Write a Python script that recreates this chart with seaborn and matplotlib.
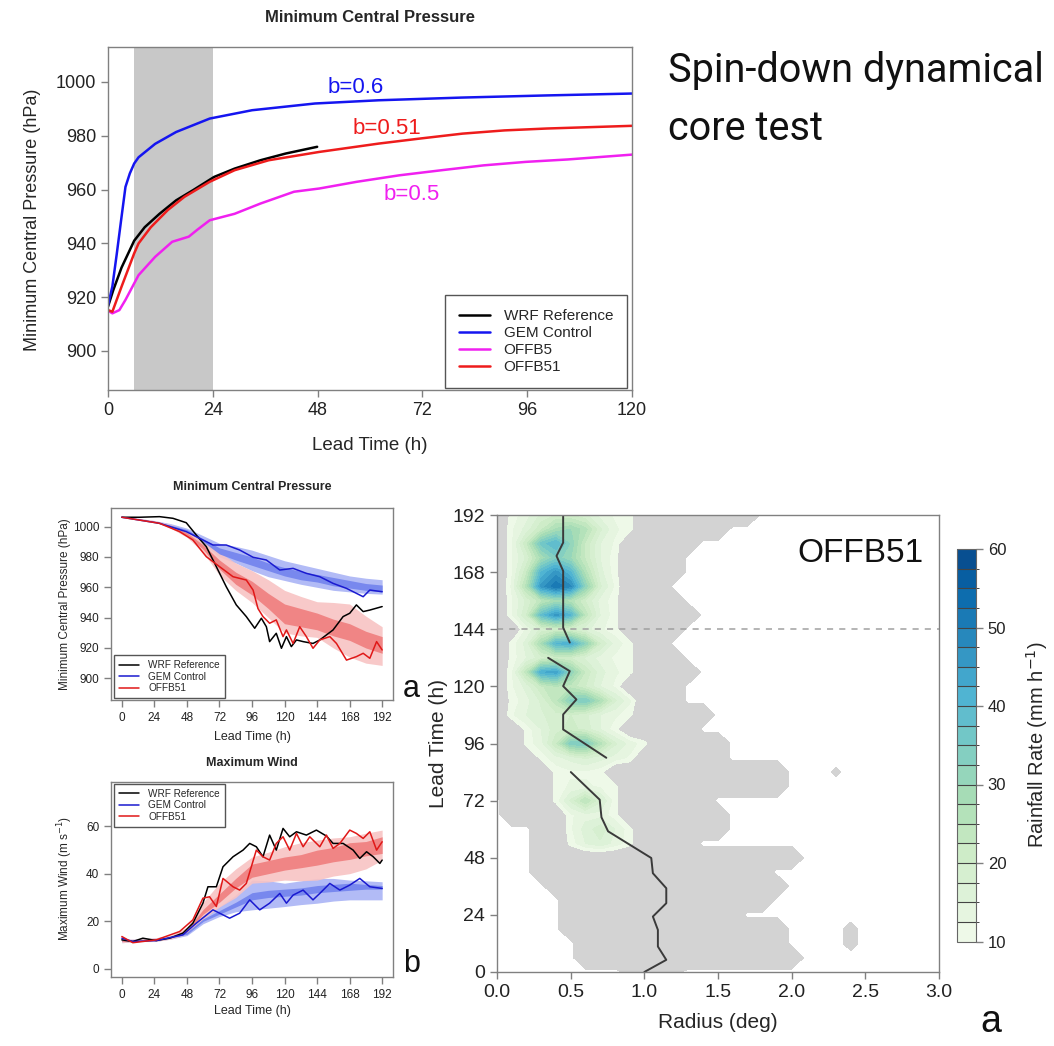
import numpy as np
import matplotlib
matplotlib.use("Agg")
import matplotlib.pyplot as plt
import seaborn as sns
from matplotlib.colors import ListedColormap, BoundaryNorm
from matplotlib.cm import ScalarMappable

W, H = 1054, 1046

# --- spin-down test (0-120 h) ---
spin_wrf_t = [0, 1.2, 3.1, 6, 8.4, 11.8, 15.6, 19.5, 24.3, 29, 34.9, 40.7, 47.9]
spin_wrf_p = [916.5, 922.6, 931, 941, 946, 951, 956, 959.8, 964.7, 967.8, 970.9, 973.4, 975.9]
spin_gem_t = [0, 1, 2, 3, 4, 5, 6, 7, 10.8, 15.6, 23.3, 33, 47.4, 62, 81, 100.5, 120]
spin_gem_p = [917, 924, 936, 948.6, 961, 966, 969.7, 972, 977, 981.4, 986.4, 989.5, 992, 993.2, 994.2, 995, 995.7]
spin_b5_t = [0, 1, 2.6, 4, 7, 10.8, 14.7, 18.5, 20.4, 23.3, 29, 34.9, 42.6, 48.4, 57, 66.7, 76.4, 86, 95.7, 105.3, 120]
spin_b5_p = [915, 914, 915.2, 919, 928.2, 935, 940.6, 942.5, 945, 948.6, 951, 954.8, 959.2, 960.4, 962.9, 965.3,
             967.2, 969, 970.3, 971.2, 973]
spin_b51_t = [0, 1, 3.1, 6, 7, 9.8, 13.7, 17.5, 23.3, 29, 36.8, 48.4, 62, 71.6, 81.2, 90.8, 100.5, 120]
spin_b51_p = [915.2, 914.6, 923.9, 936.3, 940, 946, 952.4, 957.3, 962.9, 967.2, 970.9, 974, 977.1, 979, 980.8,
              982, 982.7, 983.7]

# --- 192 h runs: minimum central pressure ---
mcp_wrf_t = [0, 13, 27.8, 37.7, 47.5, 54.9, 62.3, 69.7, 77, 84.4, 91.8, 98, 102.9, 106.6, 109, 113.9, 117.7,
             121.4, 125, 128.8, 133.7, 141, 146, 150.9, 155.8, 163.2, 168.1, 173, 178, 182.9, 192]
mcp_wrf_p = [1006.2, 1006.2, 1006.6, 1005.5, 1002.6, 994.5, 986.8, 973.6, 960.4, 948.4, 940.7, 933, 939.6, 934,
             924.2, 929.7, 919.8, 927.5, 920.9, 925.3, 924.2, 923, 925.3, 928.6, 931.9, 940.7, 942.9, 948.4, 944,
             945, 947.3]
mcp_gem_t = [0, 27.8, 47.5, 57.4, 67.2, 77, 86.9, 96.8, 106.6, 116.5, 126.3, 136.1, 146, 155.8, 165.7, 178,
             182.9, 192]
mcp_gem_p = [1006.2, 1002.2, 996.7, 992.3, 987.9, 987.9, 984.6, 979.8, 978, 971.4, 972.5, 969.2, 967, 962.6,
             959.3, 953.8, 958.2, 957.1]
mcp_b51_t = [0, 27.8, 42.6, 52.4, 62.3, 72.1, 82, 91.8, 96.8, 100.4, 104.1, 109, 113.9, 118.9, 121.4, 126.3,
             131.2, 136.1, 141, 146, 153.4, 158.3, 165.7, 173, 178, 182.9, 187.9, 192]
mcp_b51_p = [1006.2, 1002.2, 996.7, 991.2, 980.2, 973.6, 967, 964.8, 958.2, 946, 940.7, 936.3, 938.5, 927.5,
             931.9, 923, 934, 927.5, 919.8, 925.3, 927.5, 923, 912, 914.3, 916.5, 913.2, 924.2, 918.7]

band_t = [0, 12, 24, 36, 48, 60, 72, 84, 96, 108, 120, 132, 144, 156, 168, 180, 192]
mcp_gem_lo2 = [1006, 1005, 1003, 1000, 996, 989, 980, 976, 971, 967, 964.5, 962, 960, 958, 957, 956, 955.5]
mcp_gem_lo1 = [1006, 1005, 1003, 1000, 997, 990, 982, 978, 974.5, 971, 967.5, 965, 963.5, 961, 959.5, 958, 957]
mcp_gem_hi1 = [1006, 1005, 1003.5, 1001, 998, 992, 986, 983, 980, 976, 973, 970.5, 968.5, 966.5, 964.5, 962.5, 961.5]
mcp_gem_hi2 = [1006, 1005.5, 1004, 1002, 999, 994, 989, 987, 984.5, 981, 977.5, 975, 972.5, 970, 967.5, 966, 965]
mcp_b51_lo2 = [1006, 1005, 1003, 999, 993, 983, 968, 958, 950, 940, 930, 928, 927, 920, 914, 910, 908.5]
mcp_b51_lo1 = [1006, 1005, 1003, 999.5, 994, 985, 972, 962, 955, 946, 936, 934, 932, 928, 925, 920, 916.5]
mcp_b51_hi1 = [1006, 1005, 1003.5, 1000.5, 996, 988, 978, 970, 964, 956, 949, 946, 943, 939, 936, 931, 927.5]
mcp_b51_hi2 = [1006, 1005.5, 1004, 1001.5, 997, 991, 983, 976, 971, 965, 958, 954, 950.5, 950, 949, 941, 934]

# --- 192 h runs: maximum wind ---
wind_wrf_t = [0, 8.1, 15.5, 25.4, 35.2, 45, 52.4, 59.8, 63.5, 69.7, 74.6, 82, 89.4, 94.3, 99.2, 104.1, 109,
              113.9, 118.9, 123.8, 128.8, 136.1, 143.5, 150.9, 155.8, 163.2, 170.6, 175.5, 180.5, 185.4, 190.3, 192]
wind_wrf_v = [12.2, 11.5, 12.9, 11.9, 12.9, 15, 19.2, 27.6, 34.5, 34.5, 42.9, 47.1, 49.9, 52.7, 51.3, 47.1, 56.2,
              49.9, 59, 55.5, 57.6, 56.2, 58.3, 55.8, 52.7, 52.7, 49.9, 46.4, 49.2, 47.1, 44.3, 45.7]
wind_gem_t = [0, 8.1, 25.4, 45, 54.9, 67.2, 74.6, 79.5, 86.9, 94.3, 101.7, 109, 116.5, 121.4, 126.3, 133.7, 141,
              146, 153.4, 160.8, 168.1, 175.5, 182.9, 192]
wind_gem_v = [12.9, 11.5, 11.9, 14.3, 19.2, 24.8, 22.7, 21.3, 23.4, 29, 24.8, 27.6, 31.7, 27.6, 31, 33.1, 29, 31.7,
              35.9, 33.1, 35.2, 38, 34.5, 33.8]
wind_b51_t = [0, 8.1, 25.4, 42.6, 52.4, 59.8, 64.7, 69.7, 74.6, 82, 86.9, 91.8, 99.2, 104.1, 109, 113.9, 118.9,
              123.8, 128.8, 133.7, 138.6, 146, 150.9, 155.8, 160.8, 168.1, 173, 178, 182.9, 187.9, 192]
wind_b51_v = [13.6, 11, 12.2, 15.7, 20.6, 29.7, 30.3, 26.2, 38, 34.5, 33.1, 35.9, 49.9, 47.1, 45.7, 52.7, 55.5,
              49.9, 56.9, 51.3, 55.5, 51.3, 56.2, 50.6, 52.7, 58.3, 56.9, 54.8, 57.6, 49.9, 53.4]
wind_gem_lo2 = [11, 11.5, 11.5, 12.5, 14, 19, 22, 24, 24.8, 25.5, 26.2, 27, 27.6, 28.5, 29, 29, 29]
wind_gem_lo1 = [11.5, 11.8, 12, 13, 14.5, 20, 23, 26, 29, 30, 30.5, 31, 32, 32.5, 33, 33.5, 33.5]
wind_gem_hi1 = [12, 12.2, 12.5, 13.5, 15.5, 21, 24.5, 28, 32, 33, 33.5, 34, 35, 35.5, 36, 35.5, 35]
wind_gem_hi2 = [12.5, 12.5, 13, 14, 16.5, 22, 26.2, 31, 37.3, 37, 36, 37, 38, 38, 37.3, 37, 36.6]
wind_b51_lo2 = [11, 11.5, 11.5, 12.5, 14.5, 21, 26, 30, 36, 36.5, 37.3, 37, 37.3, 39, 40, 42, 45.7]
wind_b51_lo1 = [11.5, 11.8, 12, 13, 15.5, 23, 28, 34, 38.5, 40, 41.5, 42.5, 43.6, 45, 46, 47.5, 48.5]
wind_b51_hi1 = [12, 12.2, 12.5, 13.5, 16.5, 25, 31.5, 38, 44, 45.5, 47, 48, 49.9, 51, 53, 53.5, 55.5]
wind_b51_hi2 = [12.5, 12.5, 13, 14, 17.5, 28, 36, 42, 47, 49, 51.3, 53, 54.1, 55, 55.5, 57, 58.3]

# --- OFFB51 rain rate (mm/h), rows every 6 h, columns radius 0.0-2.5 deg ---
rain_radius = [0.0, 0.1, 0.2, 0.3, 0.4, 0.5, 0.6, 0.7, 0.8, 0.9, 1.0, 1.1, 1.2, 1.3, 1.4, 1.5, 1.6, 1.7, 1.8,
               1.9, 2.0, 2.1, 2.2, 2.3, 2.4, 2.5]
rain_lead = list(range(0, 193, 6))
rain_rows = [
    [0, 0, 0, 0, 0, 0, 0, 0, 0, 2, 4, 4, 2],
    [0, 0, 0, 0, 0, 0, 5, 5, 5, 5, 5, 5, 5, 5, 5, 5, 5, 5, 5, 5, 5],
    [0, 0, 0, 0, 0, 0, 5, 5, 5, 5, 5, 5, 5, 5, 5, 5, 5, 5, 5, 5, 0, 0, 0, 0, 2],
    [0, 0, 0, 0, 0, 5, 5, 5, 5, 5, 5, 5, 5, 5, 5, 5, 5, 5, 5, 5, 0, 0, 0, 0, 2],
    [0, 0, 0, 0, 0, 5, 5, 5, 5, 5, 5, 5, 5, 5, 5, 5, 5],
    [0, 0, 0, 0, 0, 5, 5, 5, 5, 5, 5, 5, 5, 5, 5, 5, 5, 5, 5],
    [0, 0, 0, 0, 5, 5, 5, 5, 5, 5, 5, 5, 5, 5, 5, 5, 5, 5, 5, 5],
    [0, 0, 0, 5, 5, 5, 5, 5, 5, 5, 5, 5, 5, 5, 5, 5, 5, 5, 5],
    [0, 0, 0, 5, 5, 5, 5, 5, 5, 5, 5, 5, 5, 5, 5, 5, 5, 5, 5, 5, 5],
    [0, 0, 0, 5, 5, 11, 15, 17, 14, 11, 5, 5, 5, 5],
    [0, 0, 0, 5, 5, 12, 16, 19, 15, 11, 5, 5, 5, 5, 5, 5],
    [0, 5, 5, 5, 5, 12, 14, 14, 11, 5, 5, 5, 5, 5, 5, 5],
    [0, 5, 5, 5, 11, 18, 25, 18, 11, 5, 5, 5, 5, 5, 5],
    [5, 5, 5, 5, 11, 13, 13, 12, 11, 5, 5, 5, 5, 5, 5, 5, 5, 5, 5, 5],
    [5, 5, 5, 5, 11, 12, 12, 11, 5, 5, 5, 5, 5, 5, 5, 5, 5, 5, 5, 5, 0, 0, 0, 1.5],
    [5, 5, 5, 11, 14, 16, 18, 16, 14, 12, 5, 5, 5, 5, 5, 5],
    [5, 5, 11, 14, 22, 34, 35, 26, 18, 14, 11, 5, 5, 5, 5, 5],
    [5, 5, 11, 15, 19, 21, 19, 15, 11, 5, 5, 5, 5, 5],
    [5, 12, 15, 17, 19, 20, 18, 15, 13, 11, 5, 5, 5, 5, 5],
    [5, 11, 14, 18, 24, 33, 35, 27, 18, 13, 5, 5, 5],
    [5, 12, 16, 22, 25, 24, 20, 15, 12, 5, 5, 5, 5],
    [5, 12, 24, 42, 44, 32, 22, 16, 13, 11, 5, 5, 5, 5],
    [5, 11, 15, 19, 21, 20, 17, 14, 12, 11, 5, 5, 5],
    [5, 11, 16, 28, 40, 42, 32, 20, 14, 11, 5, 5],
    [5, 5, 13, 18, 20, 19, 16, 13, 11, 5, 5, 5, 5],
    [5, 12, 20, 38, 46, 40, 24, 15, 11, 5, 5, 5, 5, 5],
    [5, 12, 18, 24, 28, 26, 20, 14, 11, 5, 5, 5, 5],
    [5, 13, 26, 46, 52, 48, 32, 18, 12, 5, 5, 5],
    [5, 12, 22, 40, 46, 40, 26, 16, 11, 5, 5, 5, 5],
    [5, 12, 18, 28, 34, 30, 22, 15, 11, 5, 5, 5, 5],
    [5, 12, 22, 36, 40, 32, 22, 15, 12, 5, 5, 5, 5, 5],
    [5, 12, 16, 22, 28, 30, 26, 18, 13, 11, 5, 5, 5, 5, 5, 5],
    [5, 11, 14, 18, 20, 20, 18, 14, 12, 11, 5, 5, 5, 5, 5, 5, 5, 5],
]
rain = np.array([r + [0] * (len(rain_radius) - len(r)) for r in rain_rows], dtype=float)

# radius of maximum wind track (three pieces)
rmw_r = [[1.0, 1.149, 1.092, 1.092, 1.058, 1.149, 1.149, 1.058, 1.047, 0.754, 0.709, 0.697, 0.501],
         [0.742, 0.449, 0.449, 0.539, 0.449, 0.494, 0.347],
         [0.494, 0.449, 0.449, 0.404, 0.449, 0.449]]
rmw_t = [[0, 5.1, 10.7, 17.7, 23.3, 28.9, 35.2, 41.5, 47.9, 59.1, 65, 72.4, 84],
         [90, 101.9, 108.2, 114.5, 120.1, 126.4, 132],
         [138.4, 144.7, 168.5, 174.8, 180.4, 192]]

sns.set_style("ticks")
plt.rcParams["font.family"] = ["Liberation Sans", "DejaVu Sans"]

fig = plt.figure(figsize=(W / 100, H / 100), dpi=100)


def box(l, t, r, b):
    return [l / W, 1 - b / H, (r - l) / W, (b - t) / H]


def frame(ax, size):
    for s in ax.spines.values():
        s.set_visible(True)
        s.set_color("#808080")
        s.set_linewidth(1.0)
    ax.tick_params(direction="out", length=5, width=1, color="#808080", labelsize=size, labelcolor="#222222")
    ax.set_xlabel("")
    ax.set_ylabel("")


def ftext(x, y, s, **kw):
    fig.text(x / W, 1 - y / H, s, **kw)


# top panel
ax1 = fig.add_axes(box(108, 47, 632, 390))
ax1.axvspan(6, 24, color="#c8c8c8", lw=0)
sns.lineplot(x=spin_wrf_t, y=spin_wrf_p, color="black", lw=1.8, label="WRF Reference", ax=ax1)
sns.lineplot(x=spin_gem_t, y=spin_gem_p, color="#1515f0", lw=1.8, label="GEM Control", ax=ax1)
sns.lineplot(x=spin_b5_t, y=spin_b5_p, color="#f020f0", lw=1.8, label="OFFB5", ax=ax1)
sns.lineplot(x=spin_b51_t, y=spin_b51_p, color="#ee1c1c", lw=1.8, label="OFFB51", ax=ax1)
ax1.set_xlim(0, 120)
ax1.set_ylim(885.5, 1013)
ax1.set_xticks(range(0, 121, 24))
ax1.set_yticks(range(900, 1001, 20))
frame(ax1, 13)
ax1.legend(loc="lower right", bbox_to_anchor=(0.99, 0.006), borderaxespad=0, fontsize=11,
           frameon=True, fancybox=False, edgecolor="#555555", framealpha=1, borderpad=0.9,
           labelspacing=0.2, handlelength=2.0, handletextpad=0.9)
ax1.text(56.8, 998, "b=0.6", color="#1515f0", fontsize=16, ha="center", va="center")
ax1.text(63.8, 982.7, "b=0.51", color="#ee1c1c", fontsize=16, ha="center", va="center")
ax1.text(69.6, 958.3, "b=0.5", color="#f020f0", fontsize=16, ha="center", va="center")
ftext(370, 17, "Minimum Central Pressure", fontsize=12, fontweight="bold", ha="center", va="center")
ftext(370, 445, "Lead Time (h)", fontsize=13.5, ha="center", va="center")
ftext(33, 220, "Minimum Central Pressure (hPa)", fontsize=13, rotation=90, ha="center", va="center")

ftext(668, 82, "Spin-down dynamical", fontsize=28.5, family=["Roboto", "DejaVu Sans"],
      va="baseline", color="#111111")
ftext(668, 140, "core test", fontsize=28.5, family=["Roboto", "DejaVu Sans"],
      va="baseline", color="#111111")

# middle-left: minimum central pressure over 192 h
ax2 = fig.add_axes(box(111, 508, 393, 700))
ax2.fill_between(band_t, mcp_gem_lo2, mcp_gem_hi2, color="#b2bbf6", lw=0)
ax2.fill_between(band_t, mcp_b51_lo2, mcp_b51_hi2, color="#f8c3c3", lw=0, alpha=0.9)
ax2.fill_between(band_t, mcp_gem_lo1, mcp_gem_hi1, color="#7888ee", lw=0)
ax2.fill_between(band_t, mcp_b51_lo1, mcp_b51_hi1, color="#f08585", lw=0)
sns.lineplot(x=mcp_wrf_t, y=mcp_wrf_p, color="black", lw=1.1, label="WRF Reference", ax=ax2)
sns.lineplot(x=mcp_gem_t, y=mcp_gem_p, color="#1a1ad0", lw=1.1, label="GEM Control", ax=ax2)
sns.lineplot(x=mcp_b51_t, y=mcp_b51_p, color="#e01818", lw=1.1, label="OFFB51", ax=ax2)
ax2.set_xlim(-8, 200)
ax2.set_ylim(885.7, 1012.3)
ax2.set_xticks(range(0, 193, 24))
ax2.set_yticks(range(900, 1001, 20))
frame(ax2, 8.5)
ax2.legend(loc="lower left", bbox_to_anchor=(0.011, 0.01), borderaxespad=0, fontsize=7.2,
           frameon=True, fancybox=False, edgecolor="#555555", framealpha=1, borderpad=0.5,
           labelspacing=0.15, handlelength=2.0, handletextpad=0.9)
ftext(252, 487, "Minimum Central Pressure", fontsize=9, fontweight="bold", ha="center", va="center")
ftext(252, 737, "Lead Time (h)", fontsize=9, ha="center", va="center")
ftext(65, 604, "Minimum Central Pressure (hPa)", fontsize=8.5, rotation=90, ha="center", va="center")
ftext(403, 697, "a", fontsize=22, va="baseline", color="#111111")

# bottom-left: maximum wind over 192 h
ax3 = fig.add_axes(box(111, 782, 393, 977))
ax3.fill_between(band_t, wind_gem_lo2, wind_gem_hi2, color="#b2bbf6", lw=0)
ax3.fill_between(band_t, wind_b51_lo2, wind_b51_hi2, color="#f8c3c3", lw=0, alpha=0.9)
ax3.fill_between(band_t, wind_gem_lo1, wind_gem_hi1, color="#7888ee", lw=0)
ax3.fill_between(band_t, wind_b51_lo1, wind_b51_hi1, color="#f08585", lw=0)
sns.lineplot(x=wind_wrf_t, y=wind_wrf_v, color="black", lw=1.1, label="WRF Reference", ax=ax3)
sns.lineplot(x=wind_gem_t, y=wind_gem_v, color="#1a1ad0", lw=1.1, label="GEM Control", ax=ax3)
sns.lineplot(x=wind_b51_t, y=wind_b51_v, color="#e01818", lw=1.1, label="OFFB51", ax=ax3)
ax3.set_xlim(-8, 200)
ax3.set_ylim(-3.4, 78.5)
ax3.set_xticks(range(0, 193, 24))
ax3.set_yticks(range(0, 61, 20))
frame(ax3, 8.5)
ax3.legend(loc="upper left", bbox_to_anchor=(0.011, 0.99), borderaxespad=0, fontsize=7.2,
           frameon=True, fancybox=False, edgecolor="#555555", framealpha=1, borderpad=0.5,
           labelspacing=0.15, handlelength=2.0, handletextpad=0.9)
ftext(252, 763, "Maximum Wind", fontsize=9, fontweight="bold", ha="center", va="center")
ftext(252, 1011, "Lead Time (h)", fontsize=9, ha="center", va="center")
ftext(65, 879, "Maximum Wind (m s$^{-1}$)", fontsize=8.5, rotation=90, ha="center", va="center")
ftext(403, 972, "b", fontsize=22, va="baseline", color="#111111")

# right: radius-time rain rate
levels = [1] + list(np.arange(10, 60.1, 2.5))
rain_cols = sns.color_palette("GnBu", len(levels) - 2)
ax4 = fig.add_axes(box(497, 515, 939, 972))
ax4.contourf(rain_radius, rain_lead, rain, levels=levels, colors=["#d3d3d3"] + rain_cols)
ax4.axhline(144, color="#a0a0a0", ls=(0, (4, 4)), lw=1.1)
for rr, tt in zip(rmw_r, rmw_t):
    sns.lineplot(x=rr, y=tt, sort=False, estimator=None, color="#3a3a3a", lw=1.4, ax=ax4)
ax4.set_xlim(0, 3)
ax4.set_ylim(0, 192)
ax4.set_xticks(np.arange(0, 3.01, 0.5))
ax4.set_xticklabels([f"{v:.1f}" for v in np.arange(0, 3.01, 0.5)])
ax4.set_yticks(range(0, 193, 24))
frame(ax4, 14)
ax4.text(0.965, 0.915, "OFFB51", transform=ax4.transAxes, fontsize=24, ha="right", va="center",
         color="#111111")
ftext(718, 1022, "Radius (deg)", fontsize=15, ha="center", va="center")
ftext(438, 743, "Lead Time (h)", fontsize=15, rotation=90, ha="center", va="center")
ftext(991, 1022, "a", fontsize=27, ha="center", va="center", color="#111111")

cax = fig.add_axes(box(957, 549, 976, 941.5))
sm = ScalarMappable(norm=BoundaryNorm(levels[1:], len(rain_cols)), cmap=ListedColormap(rain_cols))
cb = fig.colorbar(sm, cax=cax, ticks=range(10, 61, 10), drawedges=True)
cb.dividers.set_color("#444444")
cb.dividers.set_linewidth(0.8)
cb.outline.set_edgecolor("#666666")
cb.outline.set_linewidth(0.8)
cax.tick_params(direction="out", length=5, width=1, color="#808080", labelsize=12, labelcolor="#222222")
ftext(1037, 745, "Rainfall Rate (mm h$^{-1}$)", fontsize=14.5, rotation=90, ha="center", va="center")

fig.savefig("out.png", dpi=100)
